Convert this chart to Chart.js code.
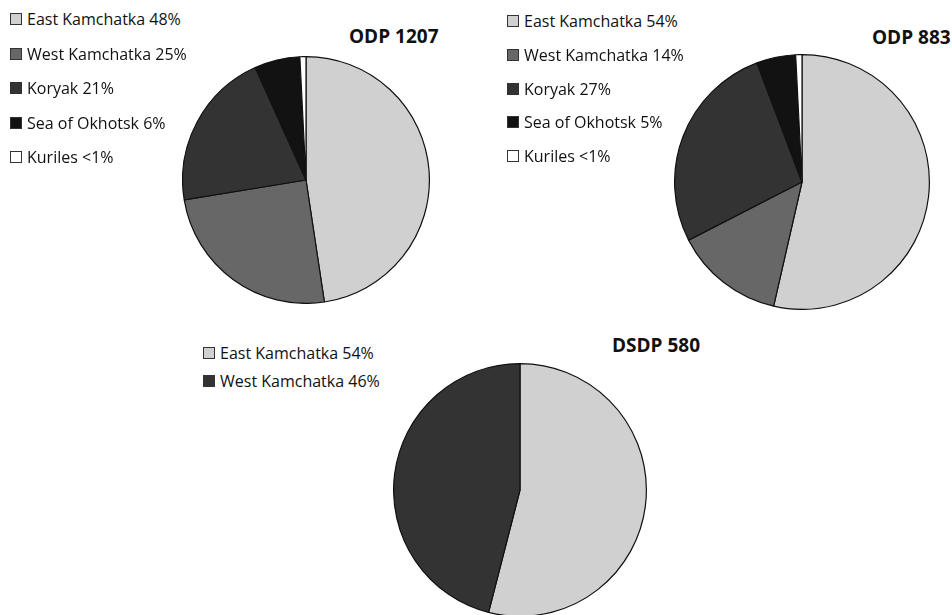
<!DOCTYPE html>
<html>
<head>
<meta charset="utf-8">
<script src="https://cdn.jsdelivr.net/npm/chart.js@4.4.1/dist/chart.umd.min.js"></script>
<style>
  html, body { margin: 0; padding: 0; background: #fff; }
  body { width: 952px; height: 615px; position: relative; overflow: hidden; font-family: 'Open Sans', sans-serif; color: #111; }
  .pie { position: absolute; }
  .title { position: absolute; font-weight: 700; font-size: 19px; line-height: 1; white-space: nowrap; }
  .legend { position: absolute; font-size: 16px; line-height: 1; }
  .legend .row { position: absolute; left: 0; white-space: nowrap; display: flex; align-items: center; }
  .legend .box { width: 10px; height: 10px; border: 1px solid #333; margin-right: 5px; }
</style>
</head>
<body>
<canvas id="pie1207" class="pie"></canvas>
<canvas id="pie883" class="pie"></canvas>
<canvas id="pie580" class="pie"></canvas>
<div id="title1207" class="title">ODP 1207</div>
<div id="title883" class="title">ODP 883</div>
<div id="title580" class="title">DSDP 580</div>
<div id="legend1207" class="legend"></div>
<div id="legend883" class="legend"></div>
<div id="legend580" class="legend"></div>
<script>
  // ODP 1207
  const labels1207 = ['East Kamchatka', 'West Kamchatka', 'Koryak', 'Sea of Okhotsk', 'Kuriles'];
  const values1207 = [48, 25, 21, 6, 0.8];
  const shares1207 = ['48%', '25%', '21%', '6%', '<1%'];

  // ODP 883
  const labels883 = ['East Kamchatka', 'West Kamchatka', 'Koryak', 'Sea of Okhotsk', 'Kuriles'];
  const values883 = [54, 14, 27, 5, 0.8];
  const shares883 = ['54%', '14%', '27%', '5%', '<1%'];

  // DSDP 580
  const labels580 = ['East Kamchatka', 'West Kamchatka'];
  const values580 = [54, 46];
  const shares580 = ['54%', '46%'];

  const greys5 = ['#d0d0d0', '#676767', '#333333', '#121212', '#ffffff'];
  const greys2 = ['#d0d0d0', '#333333'];

  const layout = {
    pie1207: { cx: 306, cy: 180, r: 123 },
    pie883: { cx: 802, cy: 182, r: 127 },
    pie580: { cx: 520, cy: 490, r: 126 },
  };

  function place(id, left, top) {
    const el = document.getElementById(id);
    el.style.left = left + 'px';
    el.style.top = top + 'px';
    return el;
  }

  function drawPie(id, labels, values, colors) {
    const box = layout[id];
    const size = box.r * 2 + 2;
    const canvas = place(id, box.cx - size / 2, box.cy - size / 2);
    canvas.style.width = size + 'px';
    canvas.style.height = size + 'px';
    canvas.width = size;
    canvas.height = size;
    new Chart(canvas, {
      type: 'pie',
      data: {
        labels: labels,
        datasets: [{
          data: values,
          backgroundColor: colors,
          borderColor: '#111',
          borderWidth: 1.2,
        }],
      },
      options: {
        responsive: false,
        animation: false,
        layout: { padding: 0 },
        plugins: {
          legend: { display: false },
          tooltip: { enabled: false },
        },
      },
    });
  }

  function drawLegend(id, left, top, step, labels, shares, colors) {
    const el = place(id, left, top);
    el.innerHTML = labels.map((label, i) => `
      <div class="row" style="top:${i * step}px">
        <span class="box" style="background:${colors[i]}"></span>${label} ${shares[i]}
      </div>
    `).join('');
  }

  drawPie('pie1207', labels1207, values1207, greys5);
  drawPie('pie883', labels883, values883, greys5);
  drawPie('pie580', labels580, values580, greys2);

  drawLegend('legend1207', 10, 11, 34.5, labels1207, shares1207, greys5);
  drawLegend('legend883', 507, 13, 33.8, labels883, shares883, greys5);
  drawLegend('legend580', 203, 345, 28, labels580, shares580, greys2);

  place('title1207', 349, 27);
  place('title883', 872, 28);
  place('title580', 612, 336);
</script>
</body>
</html>
